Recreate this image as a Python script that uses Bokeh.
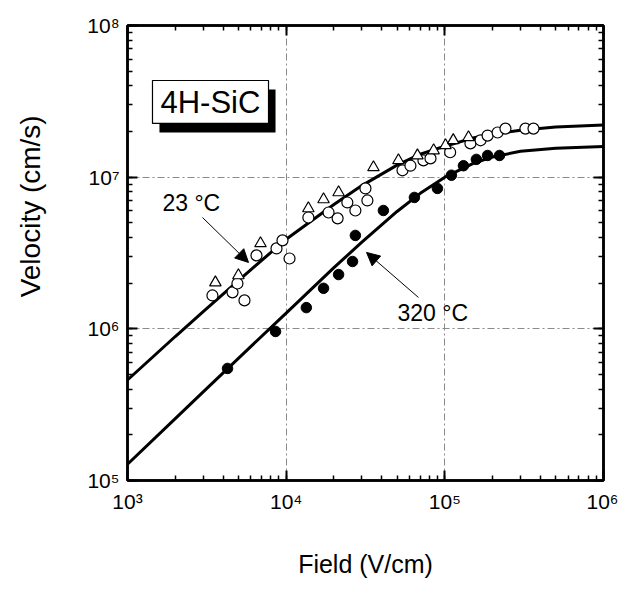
from bokeh.plotting import figure
from bokeh.models import (Range1d, LogAxis, LogTicker, CustomJSTickFormatter,
                          Arrow, NormalHead, Label, BoxAnnotation)
from bokeh.embed import file_html
from bokeh.resources import INLINE

# ---- data ----
fit_field = [1e3, 2e3, 3e3, 5e3, 1e4, 2e4, 3e4, 5e4, 7e4, 1e5, 1.5e5, 2e5, 3e5, 5e5, 1e6]
fit_23 = [4.6e5, 8.9e5, 1.3e6, 2.08e6, 3.9e6, 6.6e6, 8.8e6, 1.2e7, 1.42e7, 1.6e7,
          1.81e7, 1.92e7, 2.04e7, 2.14e7, 2.21e7]
fit_320 = [1.28e5, 2.56e5, 3.84e5, 6.39e5, 1.27e6, 2.53e6, 3.73e6, 5.94e6, 7.82e6, 1.0e7,
           1.23e7, 1.36e7, 1.48e7, 1.55e7, 1.59e7]

tri_field = [3.58e3, 5.0e3, 6.89e3, 1.38e4, 1.72e4, 2.14e4, 3.55e4, 5.1e4, 6.72e4,
             8.5e4, 1.01e5, 1.13e5, 1.41e5]
tri_vel = [2.02e6, 2.25e6, 3.66e6, 6.22e6, 7.13e6, 7.93e6, 1.16e7, 1.29e7, 1.39e7,
           1.5e7, 1.62e7, 1.75e7, 1.83e7]

circ_field = [3.43e3, 4.59e3, 4.93e3, 5.46e3, 6.5e3, 8.69e3, 9.48e3, 1.05e4, 1.38e4,
              1.85e4, 2.11e4, 2.43e4, 2.73e4, 3.25e4, 3.16e4, 5.41e4, 6.07e4, 7.33e4,
              8.12e4, 1.08e5, 1.45e5, 1.68e5, 1.86e5, 2.15e5, 2.41e5, 3.22e5, 3.62e5]
circ_vel = [1.66e6, 1.74e6, 1.99e6, 1.54e6, 3.05e6, 3.39e6, 3.83e6, 2.91e6, 5.42e6,
            5.85e6, 5.35e6, 6.81e6, 6.03e6, 7.02e6, 8.43e6, 1.11e7, 1.19e7, 1.29e7,
            1.33e7, 1.46e7, 1.67e7, 1.75e7, 1.88e7, 1.97e7, 2.09e7, 2.09e7, 2.09e7]

hot_field = [4.27e3, 8.57e3, 1.34e4, 1.72e4, 2.14e4, 2.62e4, 2.73e4, 4.1e4, 6.43e4,
             8.98e4, 1.1e5, 1.31e5, 1.58e5, 1.86e5, 2.21e5]
hot_vel = [5.48e5, 9.61e5, 1.38e6, 1.85e6, 2.28e6, 2.78e6, 4.13e6, 6.03e6, 7.35e6,
           8.43e6, 1.03e7, 1.19e7, 1.31e7, 1.39e7, 1.39e7]

FONT = "Liberation Sans"

p = figure(x_axis_type="log", y_axis_type="log",
           x_range=Range1d(1e3, 1e6), y_range=Range1d(1e5, 1e8),
           frame_width=476, frame_height=455,
           min_border_left=127, min_border_right=15, min_border_top=25, min_border_bottom=100,
           output_backend="svg", toolbar_location=None,
           background_fill_color="white", border_fill_color="white")

p.outline_line_color = "black"
p.outline_line_width = 2.5

sup_js = """
const s = {'0':'\u2070','1':'\u00b9','2':'\u00b2','3':'\u00b3','4':'\u2074','5':'\u2075','6':'\u2076','7':'\u2077','8':'\u2078','9':'\u2079'};
const e = Math.round(Math.log10(tick));
return '10' + String(e).split('').map(c => s[c]).join('');
"""

def style_axis(ax, labels=True):
    ax.ticker = LogTicker(num_minor_ticks=10)
    ax.axis_line_color = "black"
    ax.axis_line_width = 2.5
    ax.major_tick_in = 10
    ax.major_tick_out = 0
    ax.minor_tick_in = 5
    ax.minor_tick_out = 0
    ax.major_tick_line_width = 2
    ax.minor_tick_line_width = 1.5
    ax.major_tick_line_color = "black"
    ax.minor_tick_line_color = "black"
    if labels:
        ax.formatter = CustomJSTickFormatter(code=sup_js)
        ax.major_label_text_font = FONT
        ax.major_label_text_font_size = "21px"
        ax.major_label_text_color = "black"
        ax.axis_label_text_font = FONT
        ax.axis_label_text_font_style = "normal"
        ax.axis_label_text_color = "black"
    else:
        ax.formatter = CustomJSTickFormatter(code="return '';")
        ax.major_label_standoff = 0

style_axis(p.xaxis[0])
style_axis(p.yaxis[0])
p.xaxis[0].axis_label = "Field (V/cm)"
p.xaxis[0].axis_label_text_font_size = "25px"
p.xaxis[0].major_label_standoff = 9
p.xaxis[0].axis_label_standoff = 34

# leading no-break spaces move the rotated title up, as in the reference
p.yaxis[0].axis_label = "\u00a0" * 12 + "Velocity (cm/s)"
p.yaxis[0].axis_label_text_font_size = "28px"
p.yaxis[0].major_label_standoff = 8
p.yaxis[0].axis_label_standoff = 38

top_ax = LogAxis()
style_axis(top_ax, labels=False)
right_ax = LogAxis()
style_axis(right_ax, labels=False)
p.add_layout(top_ax, "above")
p.add_layout(right_ax, "right")

for g in (p.xgrid[0], p.ygrid[0]):
    g.grid_line_color = "#8a8a8a"
    g.grid_line_width = 1
    g.grid_line_dash = "7 3 2 3"
    g.minor_grid_line_color = None

# fitted curves
p.line(fit_field, fit_23, line_color="black", line_width=3)
p.line(fit_field, fit_320, line_color="black", line_width=3)

# measured points
p.scatter(circ_field, circ_vel, marker="circle", size=11, fill_color="white",
          line_color="black", line_width=1.2)
p.scatter(tri_field, tri_vel, marker="triangle", size=11.5, fill_color="white",
          line_color="black", line_width=1.2)
p.scatter(hot_field, hot_vel, marker="circle", size=10.5, fill_color="black",
          line_color="black")

# annotations
p.add_layout(Arrow(end=NormalHead(size=13, fill_color="black", line_color="black"),
                   x_start=2.97e3, y_start=5.42e6, x_end=5.79e3, y_end=2.74e6,
                   line_color="black", line_width=1))
p.add_layout(Arrow(end=NormalHead(size=13, fill_color="black", line_color="black"),
                   x_start=6.82e4, y_start=1.61e6, x_end=3.21e4, y_end=3.19e6,
                   line_color="black", line_width=1))
p.add_layout(Label(x=1.66e3, y=6.71e6, text="23 \u00b0C", text_font=FONT,
                   text_font_size="23px", text_align="left", text_baseline="middle",
                   text_color="black"))
p.add_layout(Label(x=5.03e4, y=1.28e6, text="320 \u00b0C", text_font=FONT,
                   text_font_size="23px", text_align="left", text_baseline="middle",
                   text_color="black"))

p.add_layout(BoxAnnotation(left=1.59e3, right=8.57e3, bottom=1.97e7, top=3.79e7,
                           fill_color="black", fill_alpha=1, line_color=None))
p.add_layout(BoxAnnotation(left=1.437e3, right=7.74e3, bottom=2.26e7, top=4.34e7,
                           fill_color="white", fill_alpha=1, line_color="black",
                           line_width=1.2, line_alpha=1))
p.add_layout(Label(x=3.33e3, y=3.13e7, text="4H-SiC", text_font=FONT,
                   text_font_size="31px", text_align="center", text_baseline="middle",
                   text_color="black"))

open("out.html", "w").write(file_html(p, INLINE))
